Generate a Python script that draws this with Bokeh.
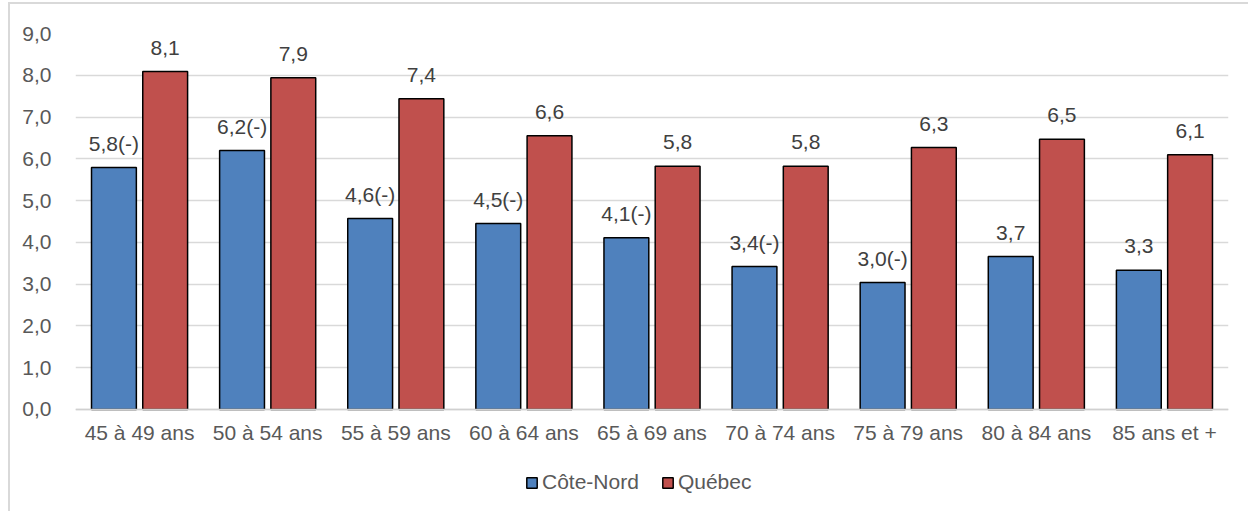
from bokeh.plotting import figure
from bokeh.models import ColumnDataSource, FactorRange, Range1d, FixedTicker, Legend, LegendItem
from bokeh.transform import dodge
from bokeh.core.properties import value
from bokeh.embed import file_html
from bokeh.resources import INLINE

categories = ["45 à 49 ans", "50 à 54 ans", "55 à 59 ans", "60 à 64 ans", "65 à 69 ans",
              "70 à 74 ans", "75 à 79 ans", "80 à 84 ans", "85 ans et +"]
cote_nord = [5.79, 6.20, 4.57, 4.45, 4.11, 3.42, 3.04, 3.66, 3.33]
quebec = [8.09, 7.94, 7.44, 6.55, 5.82, 5.82, 6.27, 6.47, 6.10]
cote_nord_labels = ["5,8(-)", "6,2(-)", "4,6(-)", "4,5(-)", "4,1(-)", "3,4(-)", "3,0(-)", "3,7", "3,3"]
quebec_labels = ["8,1", "7,9", "7,4", "6,6", "5,8", "5,8", "6,3", "6,5", "6,1"]
series_names = ["Côte-Nord", "Québec"]
y_ticks = [0, 1, 2, 3, 4, 5, 6, 7, 8, 9]
y_tick_labels = ["0,0", "1,0", "2,0", "3,0", "4,0", "5,0", "6,0", "7,0", "8,0", "9,0"]

BLUE = "#4F81BD"
RED = "#C0504D"
FONT = "Liberation Sans"
FS = "21px"

src = ColumnDataSource(dict(cat=categories, cn=cote_nord, qc=quebec,
                            cnl=cote_nord_labels, qcl=quebec_labels))

# the frame extends below zero so that the legend (drawn inside the frame) is not clipped
p = figure(x_range=FactorRange(*categories), y_range=Range1d(-2.18, 9),
           frame_width=1153, frame_height=467,
           min_border_left=65, min_border_right=20, min_border_top=29, min_border_bottom=12,
           toolbar_location=None, output_backend="svg",
           styles={"margin-left": "8px", "margin-top": "2px",
                   "border-left": "2px solid #d9d9d9", "border-top": "2px solid #d9d9d9"})

r1 = p.vbar(x=dodge("cat", -0.2, range=p.x_range), top="cn", width=0.35, source=src,
            fill_color=BLUE, line_color="black", line_width=1.5)
r2 = p.vbar(x=dodge("cat", 0.2, range=p.x_range), top="qc", width=0.35, source=src,
            fill_color=RED, line_color="black", line_width=1.5)

p.text(x=dodge("cat", -0.2, range=p.x_range), y="cn", text="cnl", source=src,
       text_align="center", text_baseline="alphabetic", y_offset=-24,
       text_font=value(FONT), text_font_size=FS, text_color="#404040")
p.text(x=dodge("cat", 0.2, range=p.x_range), y="qc", text="qcl", source=src,
       text_align="center", text_baseline="alphabetic", y_offset=-24,
       text_font=value(FONT), text_font_size=FS, text_color="#404040")

p.outline_line_color = None
p.xgrid.grid_line_color = None
p.ygrid.grid_line_color = "#d9d9d9"
p.ygrid.grid_line_width = 1.3

p.yaxis.ticker = FixedTicker(ticks=y_ticks)
p.yaxis.major_label_overrides = dict(zip(y_ticks, y_tick_labels))
p.yaxis.axis_line_color = None
p.yaxis.major_tick_line_color = None
p.yaxis.minor_tick_line_color = None
p.yaxis.major_label_standoff = 18

p.xaxis.fixed_location = 0
p.xaxis.axis_line_color = "#d0d0d0"
p.xaxis.axis_line_width = 1.3
p.xaxis.major_tick_line_color = None
p.xaxis.minor_tick_line_color = None
p.xaxis.major_label_standoff = 6

for ax in (p.xaxis[0], p.yaxis[0]):
    ax.major_label_text_font = FONT
    ax.major_label_text_font_size = FS
    ax.major_label_text_color = "#595959"

legend = Legend(items=[LegendItem(label=series_names[0], renderers=[r1]),
                       LegendItem(label=series_names[1], renderers=[r2])],
                orientation="horizontal", location=(450, 6),
                border_line_alpha=0, background_fill_alpha=0,
                label_text_font=FONT, label_text_font_size=FS, label_text_color="#595959",
                glyph_width=13, glyph_height=13, label_standoff=4, spacing=22,
                padding=0, margin=0)
p.add_layout(legend, "center")

open("out.html", "w").write(file_html(p, INLINE))
